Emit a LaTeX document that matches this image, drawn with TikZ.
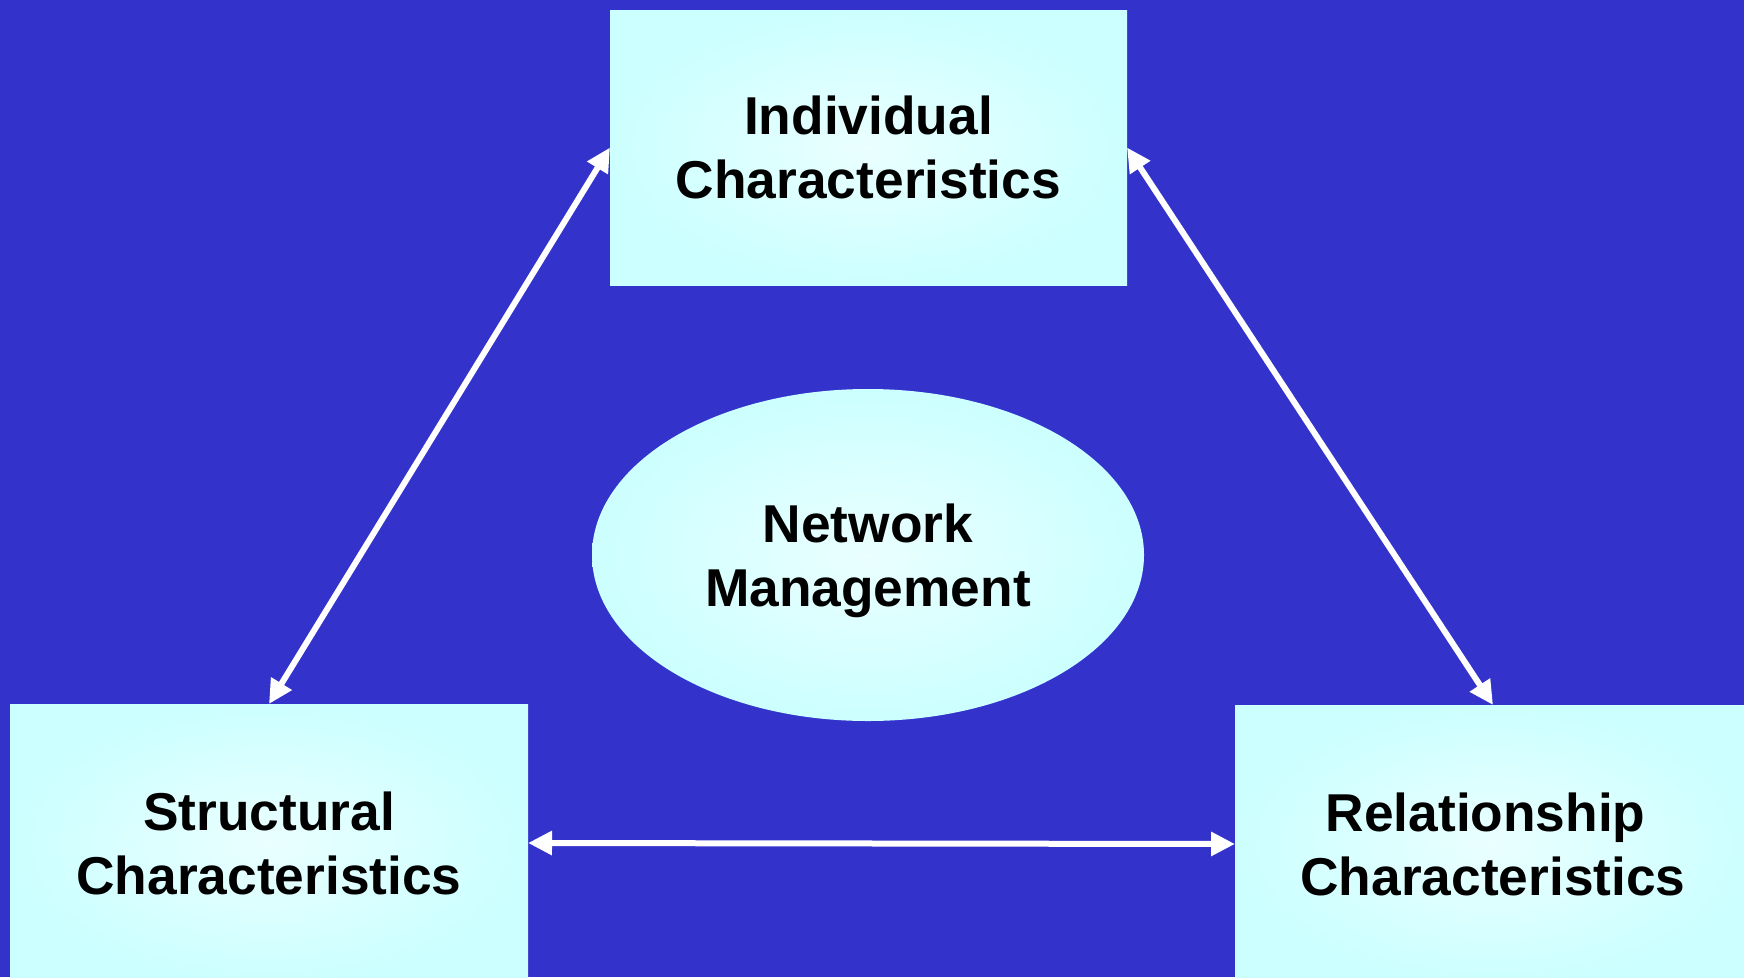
\documentclass[tikz,border=0pt]{standalone}
\usepackage{fontspec}
\setmainfont{Liberation Sans}
\usetikzlibrary{arrows.meta,shapes.geometric}
\definecolor{bg}{HTML}{3333CC}
\definecolor{boxc}{HTML}{CCFFFF}
\definecolor{boxin}{HTML}{EAFFFF}
\begin{document}
\begin{tikzpicture}[x=1pt,y=-1pt,
  box/.style={draw=none, inner sep=0pt, outer sep=0pt, shading=radial,
    inner color=boxin, outer color=boxc, align=center,
    font=\fontsize{53.3}{64}\selectfont\bfseries, text=black},
  link/.style={draw=white, line width=6pt,
    {Triangle[length=24pt,width=23pt]}-{Triangle[length=24pt,width=23pt]}}]
\fill[bg] (0,0) rectangle (1744,977);
\useasboundingbox (0,0) rectangle (1744,977);
\begin{scope}
\clip (0,0) rectangle (1744,977);
\node[box, minimum width=517pt, minimum height=275pt] (ind) at (868.5,147.5) {Individual\\Characteristics};
\node[box, minimum width=518pt, minimum height=278pt] (str) at (269,843) {Structural\\Characteristics};
\node[box, minimum width=516pt, minimum height=278pt] (rel) at (1493,844) {Relationship\hspace*{0.278em}\\Characteristics};
\node[box, ellipse, text depth=0pt, minimum width=552pt, minimum height=332pt] (net) at (868,555) {Network\\Management};
\end{scope}
\draw[link] (ind.west) -- (str.north);
\draw[link] (ind.east) -- (rel.north);
\draw[link] (str.east) -- (rel.west);
\end{tikzpicture}
\end{document}
